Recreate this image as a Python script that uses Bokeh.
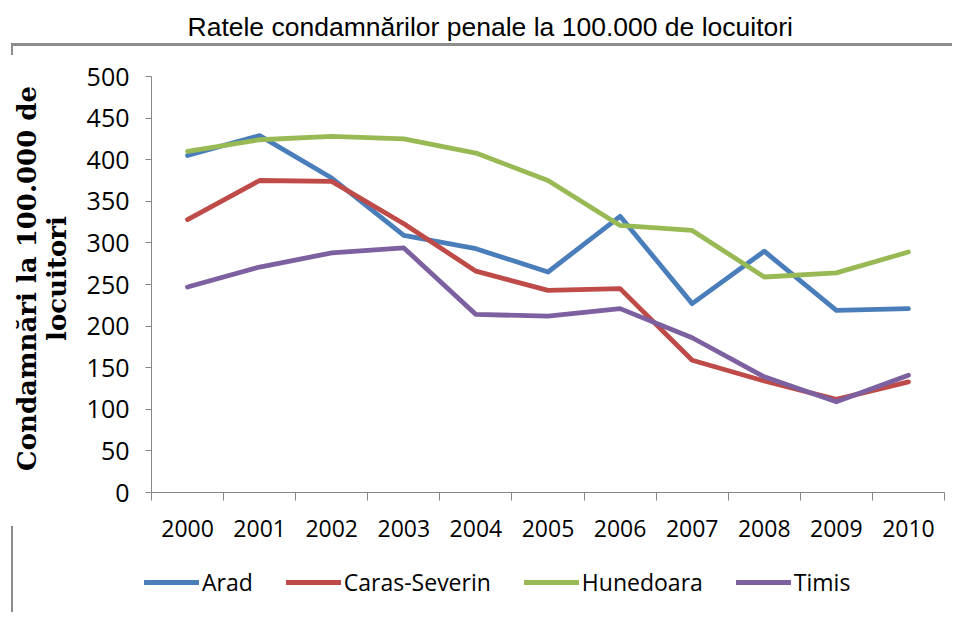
import math
from bokeh.plotting import figure
from bokeh.models import Legend, LegendItem, FixedTicker, Range1d, Label
from bokeh.embed import file_html
from bokeh.resources import INLINE

years = [2000, 2001, 2002, 2003, 2004, 2005, 2006, 2007, 2008, 2009, 2010]
arad = [405, 429, 378, 309, 293, 265, 332, 227, 290, 219, 221]
caras_severin = [328, 375, 374, 323, 266, 243, 245, 159, 134, 112, 133]
hunedoara = [410, 424, 428, 425, 408, 375, 321, 315, 259, 264, 289]
timis = [247, 271, 288, 294, 214, 212, 221, 186, 139, 109, 141]
series_names = ["Arad", "Caras-Severin", "Hunedoara", "Timis"]
colors = ["#4A7EBB", "#BE4B48", "#98B954", "#7D60A0"]
y_ticks = [0, 50, 100, 150, 200, 250, 300, 350, 400, 450, 500]

title_text = "Ratele condamnărilor penale la 100.000 de locuitori"
ylabel_text = "Condamnări la 100.000 de\nlocuitori"

# canvas geometry (pixels)
W, H = 952, 612
AX_LEFT, AX_RIGHT = 151, 944      # x of plot area edges
AX_TOP, AX_BOTTOM = 76, 492       # y of value 500 and 0
x_lo, x_hi = years[0] - 0.5, years[-1] + 0.5
y_lo, y_hi = y_ticks[0], y_ticks[-1]
px_x = (AX_RIGHT - AX_LEFT) / (x_hi - x_lo)
px_y = (AX_BOTTOM - AX_TOP) / (y_hi - y_lo)
x_range = Range1d(x_lo - AX_LEFT / px_x, x_hi + (W - AX_RIGHT) / px_x)
y_range = Range1d(y_lo - (H - AX_BOTTOM) / px_y, y_hi + AX_TOP / px_y)

FRAME_C = "#8C8C8C"
bg_styles = {
    "background-color": "white",
    "background-image": (f"linear-gradient({FRAME_C},{FRAME_C}),"
                         f"linear-gradient({FRAME_C},{FRAME_C}),"
                         f"linear-gradient({FRAME_C},{FRAME_C})"),
    "background-size": f"{W}px 3px, 2px 12px, 2px {H}px",
    "background-position": "11px 43px, 11px 43px, 11px 526px",
    "background-repeat": "no-repeat",
}

p = figure(frame_width=W, frame_height=H, output_backend="svg",
           toolbar_location=None, x_range=x_range, y_range=y_range,
           min_border=0, styles=bg_styles)
p.outline_line_color = None
p.xgrid.visible = False
p.ygrid.visible = False
p.background_fill_alpha = 0
p.border_fill_alpha = 0

FONT = "Open Sans"
AX = "#868686"

renderers = []
for name, vals, c in zip(series_names, [arad, caras_severin, hunedoara, timis], colors):
    r = p.line(years, vals, line_color=c, line_width=4.8, line_join="round",
               line_cap="round")
    renderers.append((name, r))

# y axis (drawn at the left edge of the category area)
p.yaxis.fixed_location = x_lo
p.yaxis.bounds = (y_lo, y_hi)
p.yaxis.ticker = FixedTicker(ticks=y_ticks)
p.yaxis.axis_line_color = AX
p.yaxis.major_tick_line_color = AX
p.yaxis.major_tick_out = 6
p.yaxis.major_tick_in = 0
p.yaxis.minor_tick_line_color = None
p.yaxis.major_label_text_font = FONT
p.yaxis.major_label_text_font_size = "25px"
p.yaxis.major_label_text_color = "black"
p.yaxis.major_label_standoff = 16

# x axis at value 0: labels at years, ticks between categories
p.xaxis.fixed_location = y_lo
p.xaxis.bounds = (x_lo, x_hi)
p.xaxis.ticker = FixedTicker(ticks=years,
                             minor_ticks=[y - 0.5 for y in years] + [years[-1] + 0.5])
p.xaxis.axis_line_color = AX
p.xaxis.major_tick_line_color = None
p.xaxis.minor_tick_line_color = AX
p.xaxis.minor_tick_out = 8
p.xaxis.minor_tick_in = 0
p.xaxis.major_label_text_font = FONT
p.xaxis.major_label_text_font_size = "23px"
p.xaxis.major_label_text_color = "black"
p.xaxis.major_label_standoff = 19

# chart title
p.add_layout(Label(x=187, y=H - 26, x_units="screen", y_units="screen",
                   text=title_text, text_font="Liberation Sans",
                   text_font_size="26.5px", text_align="left",
                   text_baseline="alphabetic", text_color="black"))

# value axis title
p.add_layout(Label(x=41, y=H - 278, x_units="screen", y_units="screen",
                   text=ylabel_text, angle=math.pi / 2,
                   text_font="DejaVu Serif", text_font_style="bold",
                   text_font_size="26px", text_align="center",
                   text_baseline="middle", text_color="black",
                   text_line_height=1.0))

legend = Legend(items=[LegendItem(label=n, renderers=[r]) for n, r in renderers],
                orientation="horizontal", location=(144, 14),
                glyph_width=55, glyph_height=20, label_height=20,
                label_standoff=3, spacing=33, padding=0, margin=0,
                border_line_color=None, background_fill_alpha=0,
                label_text_font=FONT, label_text_font_size="23px",
                label_text_color="black")
p.add_layout(legend)

open("out.html", "w").write(file_html(p, INLINE))
